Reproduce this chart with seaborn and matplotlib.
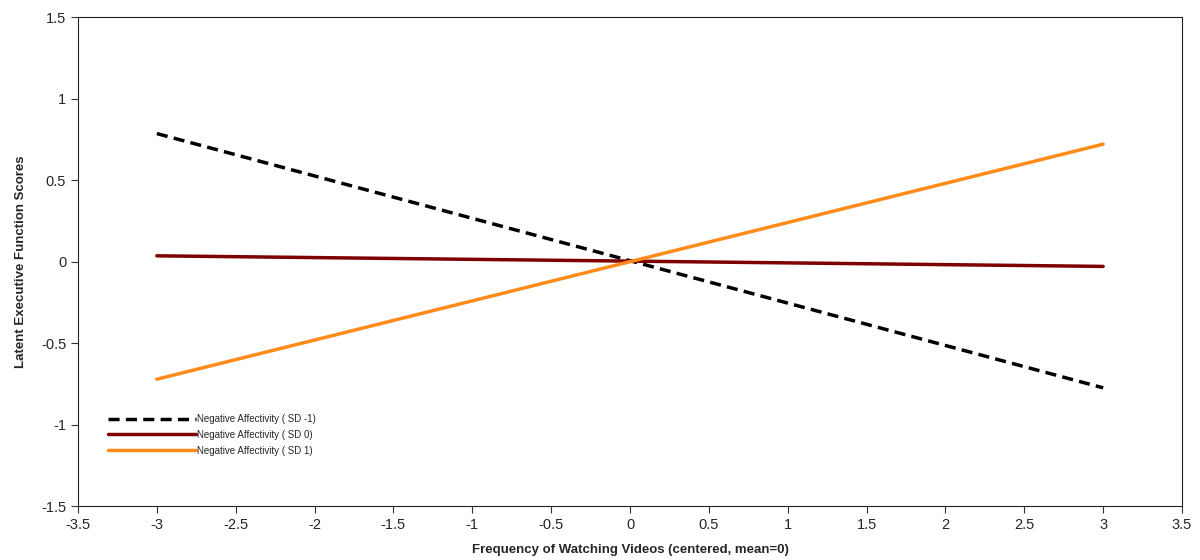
import numpy as np
import pandas as pd
import seaborn as sns
from matplotlib import pyplot as plt
from matplotlib.ticker import FuncFormatter

# simple slopes at -3 and +3 (centered predictor)
x_vals = [-3, 3]
sd_minus1 = [0.785, -0.775]
sd_0 = [0.035, -0.030]
sd_plus1 = [-0.722, 0.720]

labels = [
    "Negative Affectivity ( SD -1)",
    "Negative Affectivity ( SD 0)",
    "Negative Affectivity ( SD 1)",
]

data = pd.concat(
    [
        pd.DataFrame({"x": x_vals, "y": sd_minus1, "group": labels[0]}),
        pd.DataFrame({"x": x_vals, "y": sd_0, "group": labels[1]}),
        pd.DataFrame({"x": x_vals, "y": sd_plus1, "group": labels[2]}),
    ],
    ignore_index=True,
)

sns.set_style("ticks")
plt.rcParams["font.family"] = ["Liberation Sans", "DejaVu Sans"]
plt.rcParams["axes.unicode_minus"] = False

fig = plt.figure(figsize=(12, 5.6), dpi=100)
ax = fig.add_axes([0.065, 0.0964, 0.92, 0.8732])

sns.lineplot(
    data=data,
    x="x",
    y="y",
    hue="group",
    hue_order=labels,
    palette=["black", "#7f0000", "#ff8c1a"],
    style="group",
    style_order=labels,
    dashes={labels[0]: (3.2, 1.8), labels[1]: "", labels[2]: ""},
    linewidth=2.5,
    ax=ax,
)

ax.set_xlim(-3.5, 3.5)
ax.set_ylim(-1.5, 1.5)
ax.set_xticks(np.arange(-3.5, 3.51, 0.5))
ax.set_yticks(np.arange(-1.5, 1.51, 0.5))
fmt = FuncFormatter(lambda v, p: "%g" % round(v, 2))
ax.xaxis.set_major_formatter(fmt)
ax.yaxis.set_major_formatter(fmt)
ax.tick_params(labelsize=10.5, length=5, width=0.8, color="#333333")
for s in ax.spines.values():
    s.set_linewidth(0.8)
    s.set_color("#222222")

ax.set_xlabel("Frequency of Watching Videos (centered, mean=0)",
              fontsize=9.5, fontweight="bold", labelpad=9)
ax.set_ylabel("Latent Executive Function Scores",
              fontsize=9.5, fontweight="bold", labelpad=10)

ax.legend(
    loc="upper left",
    bbox_to_anchor=(0.024, 0.196),
    frameon=False,
    fontsize=7,
    handlelength=9,
    handletextpad=0.15,
    labelspacing=0.6,
    borderaxespad=0,
)

fig.savefig("out.png", dpi=100)
